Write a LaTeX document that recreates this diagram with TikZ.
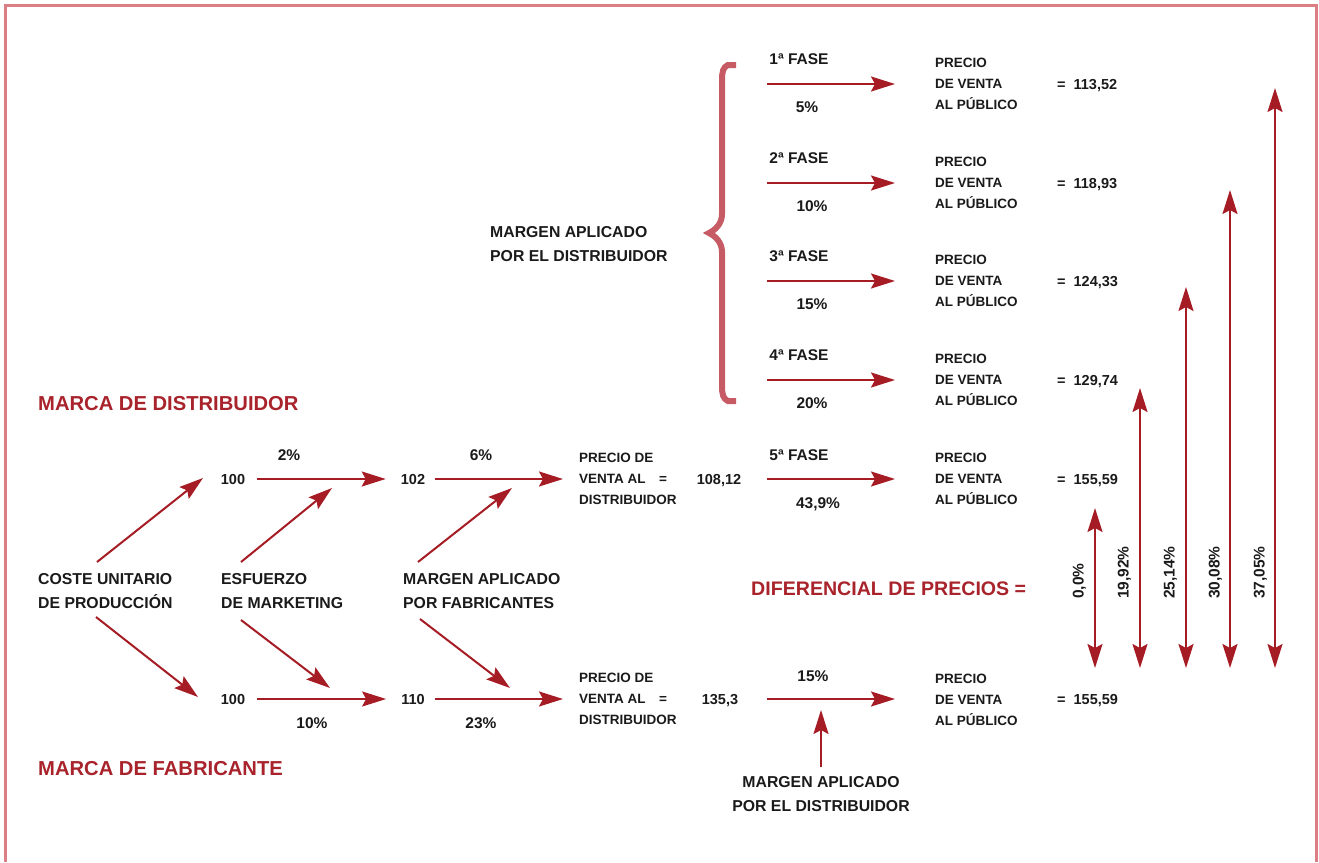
\documentclass[tikz,border=0pt]{standalone}
\usepackage{fontspec}
\setmainfont{Liberation Sans}
\usetikzlibrary{arrows.meta}
\definecolor{arrred}{HTML}{A51C24}
\definecolor{hred}{HTML}{A8232B}
\definecolor{bracecol}{HTML}{C65B65}
\definecolor{framecol}{HTML}{DB7F84}
\definecolor{txt}{HTML}{1A1A1A}
\tikzset{
  arr/.style={draw=arrred, line width=2pt, -{Stealth[length=24pt,width=15pt,inset=4pt]}},
  darr/.style={draw=arrred, line width=2pt, {Stealth[length=24pt,width=15pt,inset=4pt]}-{Stealth[length=24pt,width=15pt,inset=4pt]}},
  num/.style={font=\bfseries\fontsize{14.5}{17}\selectfont, text=txt, inner sep=0pt, text height=10.4pt, text depth=0pt},
  pct/.style={font=\bfseries\fontsize{15.5}{18}\selectfont, text=txt, inner sep=0pt, text height=11.1pt, text depth=0pt},
  head/.style={font=\bfseries\fontsize{20.2}{23}\selectfont, text=hred, inner sep=0pt, text height=14.5pt, text depth=0pt, anchor=west},
  labtwo/.style={font=\bfseries\fontsize{15.8}{24}\selectfont, text=txt, align=left, inner sep=0pt, anchor=west},
  pv/.style={font=\bfseries\fontsize{13.5}{21}\selectfont, text=txt, align=left, inner sep=0pt, anchor=west},
  eqs/.style={font=\bfseries\fontsize{13.5}{16}\selectfont, text=txt, inner sep=0pt, text height=9.7pt, text depth=0pt},
  rot/.style={font=\bfseries\fontsize{15.5}{18}\selectfont, text=txt, inner sep=0pt, text height=11.1pt, text depth=0pt, rotate=90, anchor=west},
}
\newcommand{\eqval}[1]{=\hspace{0.55em}#1}
\begin{document}
\begin{tikzpicture}[x=1pt,y=-1pt]
\useasboundingbox (0,0) rectangle (1319,862);
% frame
\draw[framecol, line width=3pt] (5,862) -- (5,5) -- (1316,5) -- (1316,862);

% headings
\node[head] (hdist) at (38,403) {MARCA DE DISTRIBUIDOR};
\node[head] (hfab) at (38,768) {MARCA DE FABRICANTE};
\node[head, font=\bfseries\fontsize{19.6}{23}\selectfont] (hdif) at (751,588) {DIFERENCIAL DE PRECIOS =};

% brace
\draw[bracecol, line width=6pt] (736,65) -- (728,65) .. controls (723,67) and (722,72) .. (722,80) -- (722,214)
  .. controls (722,224) and (715,230) .. (709,233) .. controls (715,236) and (722,242) .. (722,252)
  -- (722,386) .. controls (722,394) and (723,399) .. (728,401) -- (736,401);
\node[labtwo] (mdist) at (490,244.5) {MARGEN APLICADO\\POR EL DISTRIBUIDOR};

% phases 1-4
\foreach \i/\y/\pc/\px/\val in {1/84/5\%/807/{113,52}, 2/183/10\%/812/{118,93}, 3/281/15\%/812/{124,33}, 4/380/20\%/812/{129,74}}{
  \node[pct] (fase\i) at (799,\y-25) {\i\textordfeminine{} FASE};
  \node[pct] (pcf\i) at (\px,\y+23) {\pc};
  \node[pv] (pvr\i) at (935,\y) {PRECIO\\DE VENTA\\AL PÚBLICO};
  \node[num, anchor=west] (val\i) at (1057,\y) {\eqval{\val}};
  \coordinate (ps\i) at (767,\y);
  \draw[arr, shorten >=40pt] (ps\i) -- (pvr\i.west);
}

% distributor brand row
\node[num] (d100) at (233,479) {100};
\node[num] (d102) at (413,479) {102};
\node[pv] (dpv) at (579,479) {PRECIO DE\\VENTA AL\\DISTRIBUIDOR};
\node[eqs] (deq) at (663,479) {=};
\node[num] (d10812) at (719,479) {108,12};
\node[pct] (p2) at (289,455) {2\%};
\node[pct] (p6) at (481,455) {6\%};
\node[pct] (fase5) at (799,455) {5\textordfeminine{} FASE};
\node[pct] (p439) at (818,503) {43,9\%};
\node[pv] (pvr5) at (935,479) {PRECIO\\DE VENTA\\AL PÚBLICO};
\node[num, anchor=west] (val5) at (1057,479) {\eqval{155,59}};
\draw[arr, shorten <=12pt, shorten >=15pt] (d100.east) -- (d102.west);
\draw[arr, shorten <=10pt, shorten >=16pt] (d102.east) -- (dpv.west);
\draw[arr, shorten <=26pt, shorten >=40pt] (d10812.east) -- (pvr5.west);

% manufacturer brand row
\node[num] (f100) at (233,699) {100};
\node[num] (f110) at (413,699) {110};
\node[pv] (fpv) at (579,699) {PRECIO DE\\VENTA AL\\DISTRIBUIDOR};
\node[eqs] (feq) at (663,699) {=};
\node[num] (f1353) at (720,699) {135,3};
\node[pct] (p10) at (312,723) {10\%};
\node[pct] (p23) at (481,723) {23\%};
\node[pct] (p15) at (813,676) {15\%};
\node[pv] (pvrb) at (935,700) {PRECIO\\DE VENTA\\AL PÚBLICO};
\node[num, anchor=west] (valb) at (1057,699) {\eqval{155,59}};
\draw[arr, shorten <=12pt, shorten >=15pt] (f100.east) -- (f110.west);
\draw[arr, shorten <=10pt, shorten >=16pt] (f110.east) -- (fpv.west |- f110.east);
\draw[arr, shorten <=29pt, shorten >=40pt] (f1353.east) -- (pvrb.west |- f1353.east);

% left labels
\node[labtwo] (coste) at (38,591) {COSTE UNITARIO\\DE PRODUCCIÓN};
\node[labtwo] (esf) at (221,591) {ESFUERZO\\DE MARKETING};
\node[labtwo] (mfab) at (403,591) {MARGEN APLICADO\\POR FABRICANTES};

% diagonal arrows
\coordinate (cu1) at (97,562);  \coordinate (cu2) at (203,478);
\coordinate (cd1) at (96,617);  \coordinate (cd2) at (198,697);
\coordinate (eu1) at (241,562); \coordinate (eu2) at (332,488);
\coordinate (ed1) at (241,620); \coordinate (ed2) at (330,688);
\coordinate (mu1) at (418,562); \coordinate (mu2) at (512,488);
\coordinate (md1) at (420,619); \coordinate (md2) at (510,688);
\draw[arr] (cu1) -- (cu2);
\draw[arr] (cd1) -- (cd2);
\draw[arr] (eu1) -- (eu2);
\draw[arr] (ed1) -- (ed2);
\draw[arr] (mu1) -- (mu2);
\draw[arr] (md1) -- (md2);

% bottom distributor margin
\node[labtwo, align=center, anchor=center] (mdb) at (821,794) {MARGEN APLICADO\\POR EL DISTRIBUIDOR};
\coordinate (mdbtip) at (821,710);
\draw[arr, shorten <=9pt] (mdb.north) -- (mdbtip);

% price differential arrows
\coordinate (v0b) at (1095,668); \coordinate (v0t) at (1095,508);
\draw[darr] (v0b) -- (v0t);
\foreach \n/\x/\t in {1/1140/388, 2/1186/287, 3/1230/190, 4/1275/88}{
  \coordinate (vb\n) at (\x,668); \coordinate (vt\n) at (\x,\t);
  \draw[darr] (vb\n) -- (vt\n);
}
\node[rot] (r0) at (1078,599) {0,0\%};
\node[rot] (r1) at (1123,599) {19,92\%};
\node[rot] (r2) at (1169,599) {25,14\%};
\node[rot] (r3) at (1214,599) {30,08\%};
\node[rot] (r4) at (1259,599) {37,05\%};
\end{tikzpicture}
\end{document}
